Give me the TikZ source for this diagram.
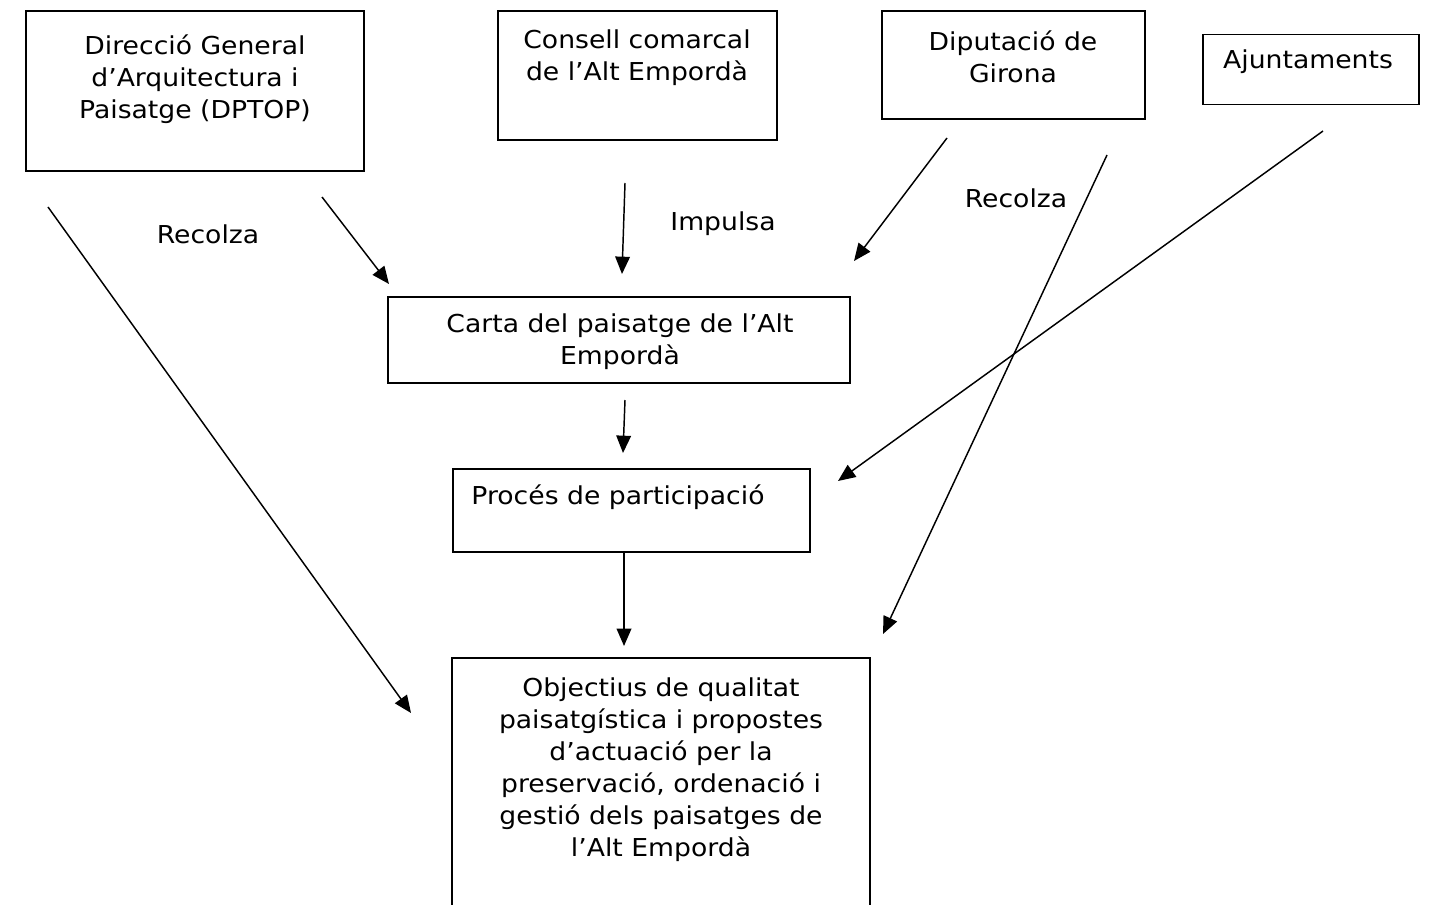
\documentclass[tikz,border=0pt]{standalone}
\usepackage{fontspec}
\setmainfont{DejaVu Sans}[FakeStretch=1.08]
\usetikzlibrary{arrows.meta}
\tikzset{
  box/.style={draw, line width=1.1pt, inner sep=0pt},
  txt/.style={align=center, inner sep=0pt, font=\fontsize{18.5}{24}\selectfont},
  conn/.style={line width=1.1pt, -{Triangle[length=13pt,width=11pt]}}
}
\begin{document}
\begin{tikzpicture}[x=0.75pt,y=-0.75pt]
\useasboundingbox (0,0) rectangle (1433,905);
\clip (0,0) rectangle (1433,905);
% boxes
\node[box, minimum width=253.5pt, minimum height=120pt] (dg) at (195,91) {};
\node[box, minimum width=209.25pt, minimum height=96.75pt] (cc) at (637.5,75.5) {};
\node[box, minimum width=197.25pt, minimum height=81pt] (dip) at (1013.5,65) {};
\node[box, minimum width=162pt, minimum height=52.5pt] (aj) at (1311,69.5) {};
\node[box, minimum width=346.5pt, minimum height=64.5pt] (carta) at (619,340) {};
\node[box, minimum width=268pt, minimum height=62.25pt] (proc) at (631.5,510.5) {};
\node[box, minimum width=313.5pt, minimum height=226.5pt] (obj) at (661,809) {};
% texts
\node[txt] (dgt) at (195,79) {Direcció General\\d’Arquitectura i\\Paisatge (DPTOP)};
\node[txt] (cct) at (637,58) {Consell comarcal\\de l’Alt Empordà};
\node[txt] (dipt) at (1013,57) {Diputació de\\Girona};
\node[txt] (ajt) at (1308,62) {Ajuntaments};
\node[txt] (cartat) at (620,342) {Carta del paisatge de l’Alt\\Empordà};
\node[txt] (proct) at (618,497) {Procés de participació};
\node[txt] (objt) at (661,770) {Objectius de qualitat\\paisatgística i propostes\\d’actuació per la\\preservació, ordenació i\\gestió dels paisatges de\\l’Alt Empordà};
\node[txt] (rec1) at (208,234) {Recolza};
\node[txt] (imp) at (723,224) {Impulsa};
\node[txt] (rec2) at (1016,198) {Recolza};
% connector end points
\coordinate (a1s) at (48,207);   \coordinate (a1e) at (411,713);
\coordinate (a2s) at (322,197);  \coordinate (a2e) at (389,284);
\coordinate (a3s) at (625,183);  \coordinate (a3e) at (622,274);
\coordinate (a4s) at (947,138);  \coordinate (a4e) at (854,261);
\coordinate (a5s) at (1107,155); \coordinate (a5e) at (883,634);
\coordinate (a6s) at (1323,131); \coordinate (a6e) at (838,481);
\coordinate (a7s) at (625,400);  \coordinate (a7e) at (623,453);
\coordinate (a8s) at (624,553);  \coordinate (a8e) at (624,646);
\draw[conn] (a1s) -- (a1e);
\draw[conn] (a2s) -- (a2e);
\draw[conn] (a3s) -- (a3e);
\draw[conn] (a4s) -- (a4e);
\draw[conn] (a5s) -- (a5e);
\draw[conn] (a6s) -- (a6e);
\draw[conn] (a7s) -- (a7e);
\draw[conn] (a8s) -- (a8e);
\end{tikzpicture}
\end{document}
